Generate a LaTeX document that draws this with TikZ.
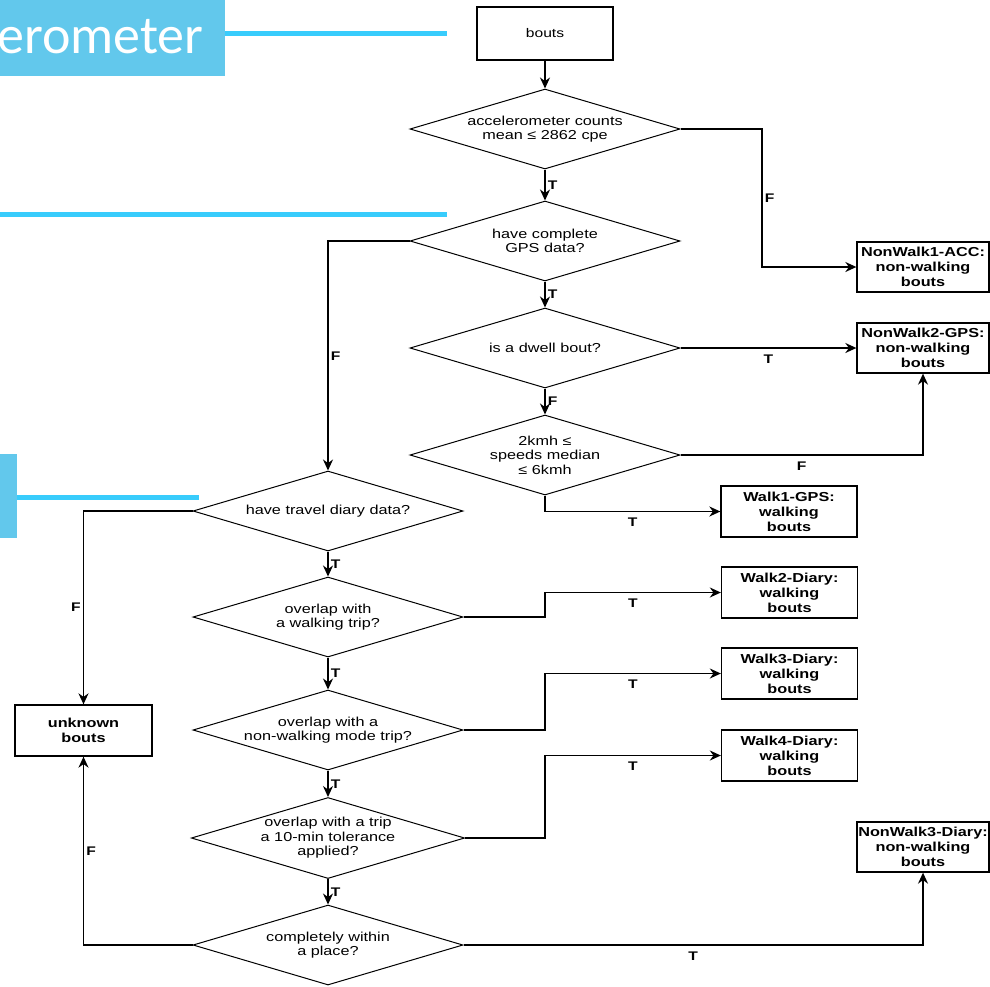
\documentclass[tikz,border=0pt]{standalone}
\usepackage{fontspec}
\usetikzlibrary{shapes.geometric,arrows.meta}
\newfontfamily\chartfont{Liberation Sans}[FakeStretch=1.25]
\newfontfamily\slidefont{Carlito}
\definecolor{slidecyan}{RGB}{98,200,236}
\definecolor{linecyan}{RGB}{56,204,252}
\tikzset{
  decision/.style={diamond, draw, line width=1pt, inner sep=0pt, aspect=3.375,
    minimum width=270pt, minimum height=80pt, align=center,
    font=\chartfont\fontsize{13}{14.5}\selectfont},
  outbox/.style={rectangle, draw, line width=1.3pt, minimum width=136pt,
    minimum height=51pt, inner sep=0pt, align=center,
    font=\chartfont\bfseries\fontsize{13}{15}\selectfont},
  flow/.style={line width=1.5pt, -{Stealth[length=11pt,width=10pt]}},
  tf/.style={font=\chartfont\bfseries\fontsize{12.5}{13}\selectfont, inner sep=2pt},
}
\begin{document}
\begin{tikzpicture}[x=1pt, y=-1pt]
  \useasboundingbox (0,0) rectangle (990,986);

  % slide pieces behind the chart
  \fill[slidecyan] (0,0) rectangle (225,76);
  \node[anchor=base west, inner sep=0pt, text=white,
    font=\slidefont\fontsize{54}{54}\selectfont] (acctitle) at (-3,53) {erometer};
  \draw[linecyan, line width=5pt] (225,33) -- (447,33);
  \draw[linecyan, line width=5pt] (0,214) -- (447,214);
  \fill[slidecyan] (0,454) rectangle (17,538);
  \draw[linecyan, line width=5pt] (17,497) -- (199,497);

  % decisions
  \node[outbox, font=\chartfont\fontsize{12.5}{14.5}\selectfont, minimum width=136pt,
    minimum height=53pt] (bouts) at (545,33.5) {bouts};
  \node[decision] (acc) at (545,129) {accelerometer counts\\mean ≤ 2862 cpe};
  \node[decision] (gps) at (545,241) {have complete\\GPS data?};
  \node[decision] (dwell) at (545,348) {is a dwell bout?};
  \node[decision] (speed) at (545,455) {2kmh ≤\\speeds median\\≤ 6kmh};
  \node[decision] (diary) at (328,511) {have travel diary data?};
  \node[decision] (wtrip) at (328,617) {overlap with\\a walking trip?};
  \node[decision] (nwtrip) at (328,730) {overlap with a\\non-walking mode trip?};
  \node[decision] (tol) at (328,838) {overlap with a trip\\a 10-min tolerance\\applied?};
  \node[decision] (place) at (328,945) {completely within\\a place?};

  % results
  \node[outbox, minimum width=132pt, minimum height=50pt] (nw1) at (923,267) {NonWalk1-ACC:\\non-walking\\bouts};
  \node[outbox, minimum width=132pt, minimum height=50pt] (nw2) at (923,348) {NonWalk2-GPS:\\non-walking\\bouts};
  \node[outbox] (walk1) at (789,511.5) {Walk1-GPS:\\walking\\bouts};
  \node[outbox] (walk2) at (789.5,592.5) {Walk2-Diary:\\walking\\bouts};
  \node[outbox] (walk3) at (789.5,673.5) {Walk3-Diary:\\walking\\bouts};
  \node[outbox] (walk4) at (789.5,755.5) {Walk4-Diary:\\walking\\bouts};
  \node[outbox, minimum width=132pt, minimum height=50pt] (nw3) at (923,847) {NonWalk3-Diary:\\non-walking\\bouts};
  \node[outbox, minimum width=137pt] (unknown) at (83.5,730.5) {unknown\\bouts};

  \coordinate (fx) at (762,0);

  % connectors
  \draw[flow] (bouts) -- (acc);
  \draw[flow] (acc) -- node[tf, right] {T} (gps);
  \draw[flow] (acc.east) -- (acc.east -| fx) |- node[tf, pos=0.25, right] {F} (nw1.west);
  \draw[flow] (gps) -- node[tf, right] {T} (dwell);
  \draw[flow] (gps.west) -| node[tf, pos=0.75, right] {F} (diary.north);
  \draw[flow] (dwell) -- node[tf, right] {F} (speed);
  \draw[flow] (dwell.east) -- node[tf, below=4pt] {T} (nw2.west);
  \draw[flow] (speed.east) -| node[tf, pos=0.25, below=4pt] {F} (nw2.south);
  \draw[flow] (speed.south) |- node[tf, pos=0.75, below=4pt] {T} (walk1.west);
  \draw[flow] (diary.west) -| node[tf, pos=0.75, left] {F} (unknown.north);
  \draw[flow] (diary) -- node[tf, right] {T} (wtrip);
  \draw[flow] (wtrip.east) -- (wtrip.east -| speed.south) |- node[tf, pos=0.75, below=4pt] {T} (walk2.west);
  \draw[flow] (wtrip) -- node[tf, right] {T} (nwtrip);
  \draw[flow] (nwtrip.east) -- (nwtrip.east -| speed.south) |- node[tf, pos=0.75, below=4pt] {T} (walk3.west);
  \draw[flow] (nwtrip) -- node[tf, right] {T} (tol);
  \draw[flow] (tol.east) -- (tol.east -| speed.south) |- node[tf, pos=0.75, below=4pt] {T} (walk4.west);
  \draw[flow] (tol) -- node[tf, right] {T} (place);
  \draw[flow] (place.west) -| node[tf, pos=0.75, right] {F} (unknown.south);
  \draw[flow] (place.east) -| node[tf, pos=0.25, below=4pt] {T} (nw3.south);
\end{tikzpicture}
\end{document}
